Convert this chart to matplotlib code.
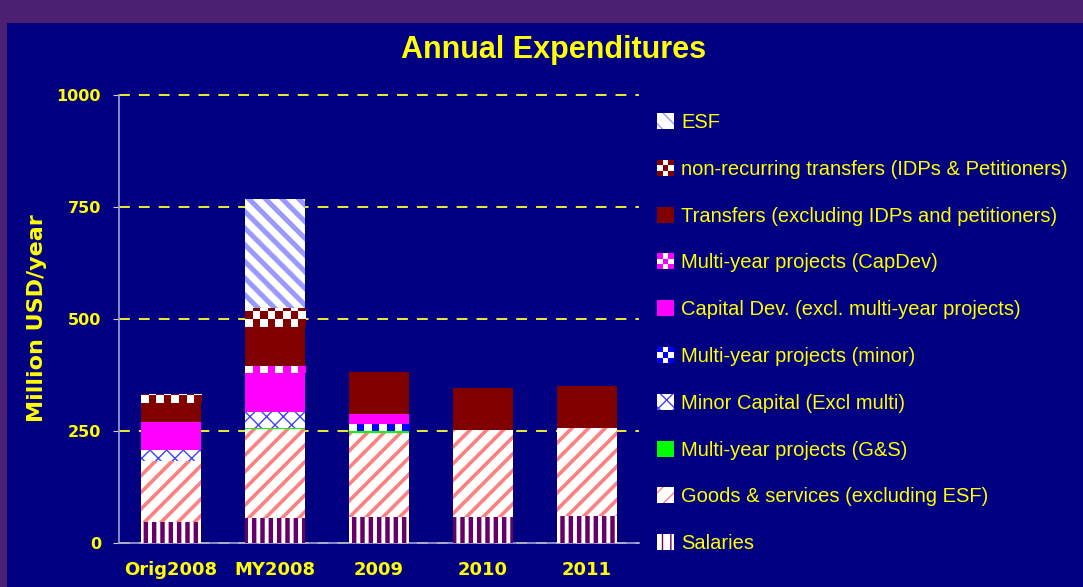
import numpy as np
import matplotlib
import matplotlib.pyplot as plt
from matplotlib.patches import Rectangle, Patch
from matplotlib.colors import ListedColormap
from matplotlib.legend_handler import HandlerBase

# Data (million USD / year)
years = ['Orig2008', 'MY2008', '2009', '2010', '2011']
salaries = [47, 56, 59, 59, 61]
goods_services = [137, 198, 187, 193, 196]
multi_gs = [0, 3, 4, 0, 0]
minor_capital = [24, 36, 0, 0, 0]
multi_minor = [0, 0, 15, 0, 0]
capital_dev = [62, 86, 24, 0, 0]
multi_capdev = [0, 16, 0, 0, 0]
transfers = [43, 88, 93, 95, 94]
nonrec_transfers = [19, 41, 0, 0, 0]
esf = [0, 244, 0, 0, 0]

YELLOW = '#ffff00'
NAVY = '#000080'
narrow = ['Liberation Sans', 'DejaVu Sans']

# label, values, kind, main colour, hatch, hatch linewidth
series = [
    ('Salaries', salaries, 'hatch', '#660066', '||', 3.2),
    ('Goods & services (excluding ESF)', goods_services, 'hatch', '#ff8080', '//', 2.6),
    ('Multi-year projects (G&S)', multi_gs, 'solid', '#00ff00', None, 0),
    ('Minor Capital (Excl multi)', minor_capital, 'hatch', '#4040ff', 'xx', 1.0),
    ('Multi-year projects (minor)', multi_minor, 'checker', '#0000ff', None, 0),
    ('Capital Dev. (excl. multi-year projects)', capital_dev, 'solid', '#ff00ff', None, 0),
    ('Multi-year projects (CapDev)', multi_capdev, 'checker', '#ff00ff', None, 0),
    ('Transfers (excluding IDPs and petitioners)', transfers, 'solid', '#800000', None, 0),
    ('non-recurring transfers (IDPs & Petitioners)', nonrec_transfers, 'checker', '#800000', None, 0),
    ('ESF', esf, 'hatch', '#9999ff', '\\\\', 3.6),
]


class HandlerChecker(HandlerBase):
    def __init__(self, color):
        super().__init__()
        self.color = color

    def create_artists(self, legend, orig_handle, xdescent, ydescent,
                       width, height, fontsize, trans):
        arts = []
        n = 3
        cw, ch = width / n, height / n
        for i in range(n):
            for j in range(n):
                c = self.color if (i + j) % 2 == 0 else 'white'
                arts.append(Rectangle((-xdescent + i * cw, -ydescent + j * ch), cw, ch,
                                      facecolor=c, edgecolor='none', transform=trans))
        return arts


fig = plt.figure(figsize=(10.83, 5.87), dpi=100, facecolor='#4b1f72')
fig.patches.append(Rectangle((7 / 1083, 0), 1, 1 - 23 / 587, transform=fig.transFigure,
                             facecolor=NAVY, edgecolor='none', zorder=-10))

ax = fig.add_axes([119 / 1083, 44 / 587, 520 / 1083, 448 / 587])
ax.set_zorder(2)
ax.patch.set_alpha(0)

x = np.arange(len(years))
width = 0.58
bottom = np.zeros(len(years))
handles = []
handler_map = {}

for label, vals, kind, color, hatch, hlw in series:
    vals = np.array(vals, dtype=float)
    if kind == 'solid':
        bars = ax.bar(x, vals, width, bottom=bottom, color=color, linewidth=0, zorder=3)
        h = Patch(facecolor=color, edgecolor='none', label=label)
    elif kind == 'hatch':
        with plt.rc_context({'hatch.linewidth': hlw}):
            bars = ax.bar(x, vals, width, bottom=bottom, facecolor='white',
                          edgecolor=color, hatch=hatch, linewidth=0, zorder=3)
            h = Patch(facecolor='white', edgecolor=color, hatch=hatch,
                      linewidth=0, label=label)
    else:
        bars = ax.bar(x, vals, width, bottom=bottom, color='white', linewidth=0, zorder=3)
        cmap = ListedColormap(['white', color])
        cell_h = 17.0  # data units per checker row
        for rect in bars:
            x0, y0 = rect.get_x(), rect.get_y()
            w, hgt = rect.get_width(), rect.get_height()
            if hgt <= 0:
                continue
            ncol = 8
            nrow = int(np.ceil(hgt / cell_h))
            grid = (np.add.outer(np.arange(nrow), np.arange(ncol)) % 2)[::-1]
            im = ax.imshow(grid, cmap=cmap, vmin=0, vmax=1, interpolation='nearest',
                           extent=(x0, x0 + w, y0, y0 + nrow * cell_h), aspect='auto',
                           origin='upper', zorder=3.5)
            im.set_clip_path(rect)
        h = Patch(facecolor=color, label=label)
        handler_map[h] = HandlerChecker(color)
    handles.append(h)
    bottom += vals

ax.set_xlim(-0.5, 4.5)
ax.set_ylim(0, 1000)
ax.set_yticks([0, 250, 500, 750, 1000])
ax.set_xticks(x)
ax.set_xticklabels(years)

for s in ['top', 'right']:
    ax.spines[s].set_visible(False)
for s in ['left', 'bottom']:
    ax.spines[s].set_color('#a0a0d8')
    ax.spines[s].set_linewidth(1.2)

ax.tick_params(axis='y', color='#d0d0f0', length=4, pad=9, labelcolor=YELLOW,
               labelsize=11.5, grid_color='#ffff33', grid_linewidth=1.3,
               grid_linestyle=(0, (6, 5)))
ax.tick_params(axis='x', length=0, pad=13, labelcolor=YELLOW, labelsize=13)
for t in ax.get_xticklabels() + ax.get_yticklabels():
    t.set_fontweight('bold')

ax.set_axisbelow(True)
ax.yaxis.grid(True)
for gl in ax.get_ygridlines():
    gl.set_clip_on(False)

fig.text(554 / 1083, 1 - 50 / 587, 'Annual Expenditures', color=YELLOW, fontsize=22,
         fontweight='bold', family=narrow, ha='center', va='center')
fig.text(37 / 1083, 1 - 318 / 587, 'Million USD/year', color=YELLOW, fontsize=16,
         fontweight='bold', rotation=90, ha='center', va='center')

leg = fig.legend(handles[::-1], [h.get_label() for h in handles[::-1]],
                 handler_map=handler_map, loc='upper left',
                 bbox_to_anchor=(657 / 1083, 1 - 113 / 587), frameon=False,
                 prop={'family': narrow, 'size': 14.5}, labelcolor=YELLOW,
                 handlelength=0.85, handleheight=0.85, handletextpad=0.35,
                 labelspacing=1.38, borderpad=0, borderaxespad=0)

fig.savefig('out.png', dpi=100, facecolor=fig.get_facecolor())
